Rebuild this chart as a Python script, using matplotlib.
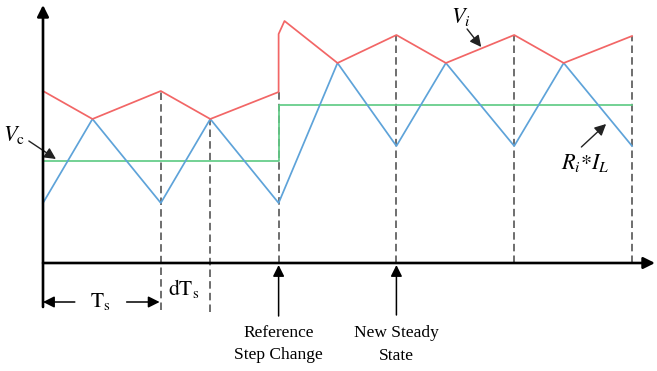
import matplotlib
matplotlib.use("Agg")
import matplotlib.pyplot as plt

plt.rcParams['font.family'] = ['Liberation Serif', 'DejaVu Serif']
plt.rcParams['mathtext.fontset'] = 'stix'

# time in switching periods, signal levels in arbitrary units
t_vi = [0, 0.42, 1, 1.42, 2, 2, 2.05, 2.5, 3, 3.42, 4, 4.42, 5]
vi = [17.2, 14.4, 17.2, 14.4, 17.1, 22.9, 24.2, 20.0, 22.8, 20.0, 22.8, 20.0, 22.7]

t_il = [0, 0.42, 1, 1.42, 2, 2.5, 3, 3.42, 4, 4.42, 5]
ril = [6.0, 14.4, 6.0, 14.4, 6.0, 20.0, 11.7, 20.0, 11.7, 20.0, 11.7]

t_vc = [0, 2, 2, 5]
vc = [10.2, 10.2, 15.8, 15.8]

# dashed markers: (time, top level, bottom level)
marker_t = [1, 1.42, 2, 3, 4, 5]
marker_top = [17.2, 14.4, 17.1, 22.8, 22.8, 22.7]
marker_bottom = [-4.7, -4.9, 0, 0, 0, 0]

RED = '#f26666'
BLUE = '#5ea3d9'
GREEN = '#62cc86'

fig = plt.figure(figsize=(6.57, 3.71), dpi=100)
ax = fig.add_axes([0, 0, 1, 1])
ax.set_xlim(-0.365, 5.212)
ax.set_ylim(-10.8, 26.3)
ax.axis('off')

lw = 1.25
for t, top, bot in zip(marker_t, marker_top, marker_bottom):
    ax.plot([t, t], [bot, top], color='#555555', lw=1.2, ls=(0, (4.5, 2.5)), zorder=1)

ax.plot(t_vc, vc, color=GREEN, lw=lw, zorder=2)
ax.plot(t_il, ril, color=BLUE, lw=lw, zorder=3)
ax.plot(t_vi, vi, color=RED, lw=lw, zorder=4)

arrow = dict(arrowstyle='-|>', color='black', lw=1.9, mutation_scale=17,
             shrinkA=0, shrinkB=0)
# axes
ax.annotate('', xy=(0, 25.8), xytext=(0, -4.4), arrowprops=arrow, zorder=5)
ax.annotate('', xy=(5.195, 0), xytext=(0, 0), arrowprops=arrow, zorder=5)

thin = dict(arrowstyle='-|>', color='black', lw=1.1, mutation_scale=17,
            shrinkA=0, shrinkB=0)
# event markers below the time axis
ax.annotate('', xy=(2, -0.2), xytext=(2, -5.3), arrowprops=thin)
ax.annotate('', xy=(3, -0.2), xytext=(3, -5.2), arrowprops=thin)
ax.text(2, -7.0, 'Reference', ha='center', va='center', fontsize=12.5)
ax.text(2, -9.2, 'Step Change', ha='center', va='center', fontsize=12.5)
ax.text(3, -7.0, 'New Steady', ha='center', va='center', fontsize=12.5)
ax.text(3, -9.3, 'State', ha='center', va='center', fontsize=12.5)

# switching period span
ax.annotate('', xy=(0, -3.9), xytext=(0.27, -3.9), arrowprops=thin)
ax.annotate('', xy=(0.99, -3.9), xytext=(0.71, -3.9), arrowprops=thin)
ax.text(0.485, -3.9, r'$\mathrm{T}_{\mathrm{s}}$', ha='center', va='center', fontsize=15.5)
ax.text(1.19, -2.6, r'$\mathrm{dT}_{\mathrm{s}}$', ha='center', va='center', fontsize=15.5)

# signal labels
pointer = dict(arrowstyle='-|>', color='#222222', lw=1.0, mutation_scale=17,
               shrinkA=0, shrinkB=0)
ax.annotate('', xy=(0.11, 10.4), xytext=(-0.12, 12.2), arrowprops=pointer)
ax.text(-0.25, 12.8, r'$V_{\mathrm{c}}$', ha='center', va='center', fontsize=16)
ax.annotate('', xy=(3.72, 21.6), xytext=(3.60, 23.4), arrowprops=pointer)
ax.text(3.55, 24.6, r'$V_i$', ha='center', va='center', fontsize=16)
ax.annotate('', xy=(4.78, 13.9), xytext=(4.57, 11.6), arrowprops=pointer)
ax.text(4.6, 10.0, r'$R_i{*}I_L$', ha='center', va='center', fontsize=16)

fig.savefig('out.png', dpi=100)
